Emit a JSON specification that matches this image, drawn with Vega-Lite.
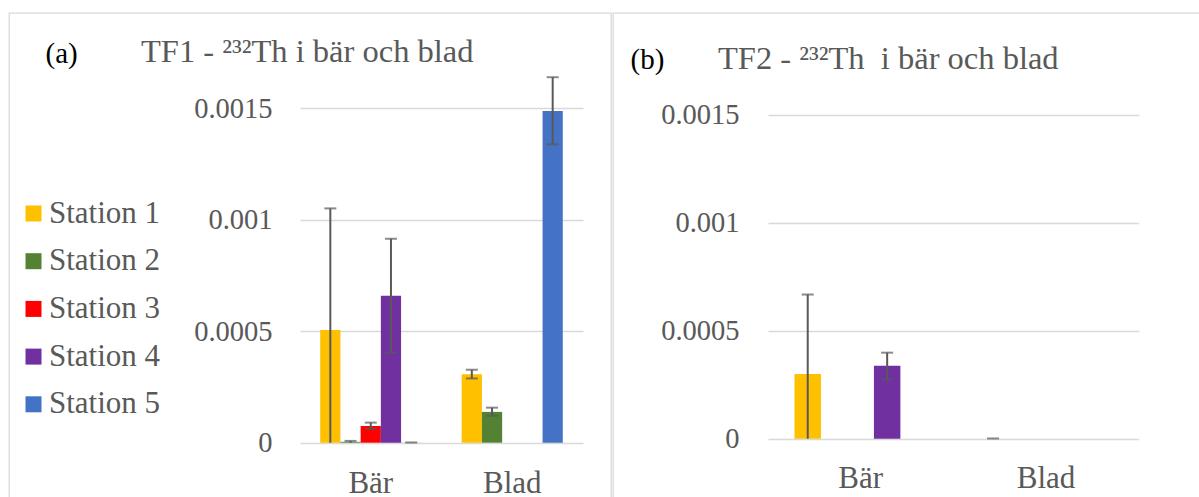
{
  "$schema": "https://vega.github.io/schema/vega-lite/v6.json",
  "padding": {"left": 8, "top": 12, "right": 0, "bottom": 0},
  "background": "white",
  "spacing": 0,
  "config": {
    "font": "Liberation Serif",
    "view": {"stroke": "#d9d9d9", "strokeWidth": 1.3},
    "axis": {"labelFont": "Liberation Serif", "titleFont": "Liberation Serif", "labelColor": "#595959"},
    "legend": {"labelFont": "Liberation Serif", "labelColor": "#595959"},
    "title": {"font": "Liberation Serif", "color": "#595959", "fontWeight": "normal"}
  },
  "resolve": {
    "scale": {"x": "independent", "y": "independent", "xOffset": "independent", "color": "shared"},
    "legend": {"color": "shared"}
  },
  "datasets": {
    "d": [
      {"panel": "a", "cat": "Bär", "station": "Station 1", "value": 0.000505, "lo": 0, "hi": 0.00105},
      {"panel": "a", "cat": "Bär", "station": "Station 2", "value": 0.000004, "lo": 0, "hi": 0.000008},
      {"panel": "a", "cat": "Bär", "station": "Station 3", "value": 0.000075, "lo": 0.000062, "hi": 0.00009},
      {"panel": "a", "cat": "Bär", "station": "Station 4", "value": 0.000659, "lo": 0.000403, "hi": 0.000914},
      {"panel": "a", "cat": "Bär", "station": "Station 5", "value": 0.0000005, "lo": 0, "hi": 0.000001},
      {"panel": "a", "cat": "Blad", "station": "Station 1", "value": 0.000307, "lo": 0.000288, "hi": 0.000327},
      {"panel": "a", "cat": "Blad", "station": "Station 2", "value": 0.000138, "lo": 0.000121, "hi": 0.000157},
      {"panel": "a", "cat": "Blad", "station": "Station 5", "value": 0.001486, "lo": 0.001337, "hi": 0.001638},
      {"panel": "b", "cat": "Bär", "station": "Station 1", "value": 0.000299, "lo": 0, "hi": 0.000667},
      {"panel": "b", "cat": "Bär", "station": "Station 4", "value": 0.000337, "lo": 0.000274, "hi": 0.000398},
      {"panel": "b", "cat": "Blad", "station": "Station 1", "value": 0, "lo": 0, "hi": 0.000001}
    ]
  },
  "hconcat": [
    {
      "width": 602,
      "height": 486,
      "title": {"text": "TF1 - ²³²Th i bär och blad", "anchor": "start", "frame": "group", "offset": 0, "dx": 132, "dy": 81, "baseline": "alphabetic", "fontSize": 32.5},
      "data": {"name": "d"},
      "transform": [{"filter": "datum.panel == 'a'"}],
      "encoding": {
        "x": {
          "field": "cat", "type": "nominal",
          "scale": {"domain": ["Bär", "Blad"], "range": [291, 574], "paddingInner": 0, "paddingOuter": 0},
          "axis": {"title": null, "orient": "bottom", "offset": -56.3, "domain": false, "ticks": false, "grid": false, "labelAngle": 0, "labelBaseline": "alphabetic", "labelPadding": 50, "labelFontSize": 31, "labelFont": "Liberation Serif"}
        },
        "xOffset": {
          "field": "station", "type": "nominal",
          "scale": {"domain": ["Station 1", "Station 2", "Station 3", "Station 4", "Station 5"], "paddingInner": 0, "paddingOuter": 1.07}
        }
      },
      "layer": [
        {
          "mark": {"type": "bar"},
          "encoding": {
            "y": {
              "field": "value", "type": "quantitative",
              "scale": {"domain": [0, 0.0015], "range": [429.7, 95], "nice": false, "zero": true},
              "axis": {"title": "(a)", "titleAngle": 0, "titleX": -255, "titleY": 49, "titleAlign": "left", "titleBaseline": "alphabetic", "titleColor": "black", "titleFontSize": 29, "titleFontWeight": "normal", "titleFont": "Liberation Serif", "offset": -291, "domain": false, "ticks": false, "labelPadding": 28, "labelFontSize": 28.5, "labelFont": "Liberation Serif", "values": [0, 0.0005, 0.001, 0.0015], "format": "~g", "grid": true, "gridColor": "#d9d9d9", "gridWidth": 1.5}
            },
            "color": {
              "field": "station", "type": "nominal",
              "scale": {"domain": ["Station 1", "Station 2", "Station 3", "Station 4", "Station 5"], "range": ["#FFC000", "#548235", "#FF0000", "#7030A0", "#4472C4"]},
              "legend": {"orient": "none", "legendX": 9, "legendY": 185, "title": null, "symbolType": "square", "symbolSize": 256, "symbolStrokeWidth": 0, "symbolOpacity": 1, "labelFontSize": 31, "labelFont": "Liberation Serif", "labelColor": "#595959", "rowPadding": 15.7, "labelOffset": 0, "padding": 0}
            }
          }
        },
        {
          "mark": {"type": "rule", "color": "#595959", "strokeWidth": 2},
          "encoding": {
            "y": {"field": "lo", "type": "quantitative", "scale": {"domain": [0, 0.0015], "range": [429.7, 95], "nice": false, "zero": true}},
            "y2": {"field": "hi"}
          }
        },
        {
          "mark": {"type": "tick", "color": "#595959", "thickness": 2, "size": 12, "orient": "horizontal"},
          "encoding": {
            "y": {"field": "hi", "type": "quantitative", "scale": {"domain": [0, 0.0015], "range": [429.7, 95], "nice": false, "zero": true}}
          }
        },
        {
          "transform": [{"filter": "datum.lo > 0"}],
          "mark": {"type": "tick", "color": "#595959", "thickness": 2, "size": 12, "orient": "horizontal"},
          "encoding": {
            "y": {"field": "lo", "type": "quantitative", "scale": {"domain": [0, 0.0015], "range": [429.7, 95], "nice": false, "zero": true}}
          }
        }
      ]
    },
    {
      "width": 588,
      "height": 486,
      "title": {"text": "TF2 - ²³²Th\u00a0 i bär och blad", "anchor": "start", "frame": "group", "offset": 0, "dx": 105, "dy": 88, "baseline": "alphabetic", "fontSize": 32.5},
      "data": {"name": "d"},
      "transform": [{"filter": "datum.panel == 'b'"}],
      "encoding": {
        "x": {
          "field": "cat", "type": "nominal",
          "scale": {"domain": ["Bär", "Blad"], "range": [155, 525.7], "paddingInner": 0, "paddingOuter": 0},
          "axis": {"title": null, "orient": "bottom", "offset": -60.3, "domain": false, "ticks": false, "grid": false, "labelAngle": 0, "labelBaseline": "alphabetic", "labelPadding": 49, "labelFontSize": 31, "labelFont": "Liberation Serif"}
        },
        "xOffset": {
          "field": "station", "type": "nominal",
          "scale": {"domain": ["Station 1", "Station 2", "Station 3", "Station 4", "Station 5"], "paddingInner": 0, "paddingOuter": 1.07}
        }
      },
      "layer": [
        {
          "mark": {"type": "bar"},
          "encoding": {
            "y": {
              "field": "value", "type": "quantitative",
              "scale": {"domain": [0, 0.0015], "range": [425.7, 101.5], "nice": false, "zero": true},
              "axis": {"title": "(b)", "titleAngle": 0, "titleX": -138, "titleY": 55, "titleAlign": "left", "titleBaseline": "alphabetic", "titleColor": "black", "titleFontSize": 29, "titleFontWeight": "normal", "titleFont": "Liberation Serif", "offset": -155, "domain": false, "ticks": false, "labelPadding": 29, "labelFontSize": 28.5, "labelFont": "Liberation Serif", "values": [0, 0.0005, 0.001, 0.0015], "format": "~g", "grid": true, "gridColor": "#d9d9d9", "gridWidth": 1.5}
            },
            "color": {
              "field": "station", "type": "nominal",
              "scale": {"domain": ["Station 1", "Station 2", "Station 3", "Station 4", "Station 5"], "range": ["#FFC000", "#548235", "#FF0000", "#7030A0", "#4472C4"]},
              "legend": {"orient": "none", "legendX": 9, "legendY": 185, "title": null, "symbolType": "square", "symbolSize": 256, "symbolStrokeWidth": 0, "symbolOpacity": 1, "labelFontSize": 31, "labelFont": "Liberation Serif", "labelColor": "#595959", "rowPadding": 15.7, "labelOffset": 0, "padding": 0}
            }
          }
        },
        {
          "mark": {"type": "rule", "color": "#595959", "strokeWidth": 2},
          "encoding": {
            "y": {"field": "lo", "type": "quantitative", "scale": {"domain": [0, 0.0015], "range": [425.7, 101.5], "nice": false, "zero": true}},
            "y2": {"field": "hi"}
          }
        },
        {
          "mark": {"type": "tick", "color": "#595959", "thickness": 2, "size": 12, "orient": "horizontal"},
          "encoding": {
            "y": {"field": "hi", "type": "quantitative", "scale": {"domain": [0, 0.0015], "range": [425.7, 101.5], "nice": false, "zero": true}}
          }
        },
        {
          "transform": [{"filter": "datum.lo > 0"}],
          "mark": {"type": "tick", "color": "#595959", "thickness": 2, "size": 12, "orient": "horizontal"},
          "encoding": {
            "y": {"field": "lo", "type": "quantitative", "scale": {"domain": [0, 0.0015], "range": [425.7, 101.5], "nice": false, "zero": true}}
          }
        }
      ]
    }
  ]
}
